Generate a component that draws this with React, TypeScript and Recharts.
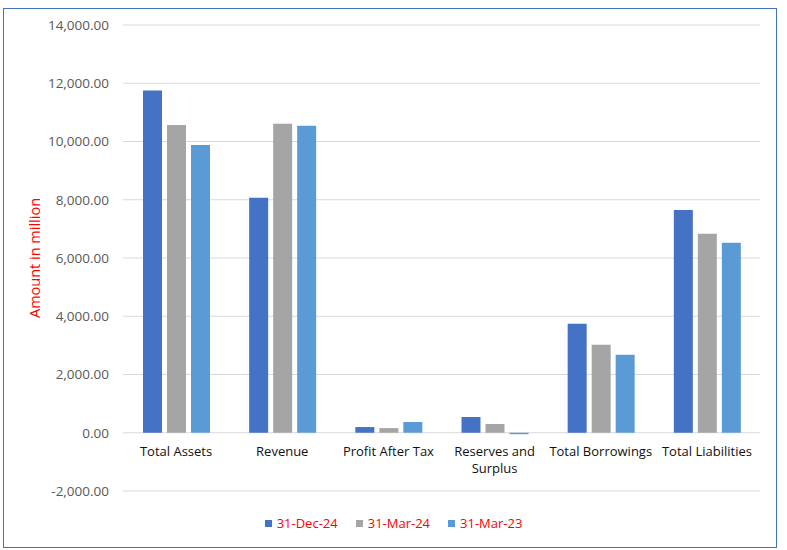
import { Bar, BarChart, CartesianGrid, XAxis, YAxis } from "recharts"

const categories = [
  "Total Assets",
  "Revenue",
  "Profit After Tax",
  "Reserves and Surplus",
  "Total Borrowings",
  "Total Liabilities",
]

const dec24 = [11750, 8070, 195, 540, 3740, 7650]
const mar24 = [10570, 10610, 160, 300, 3020, 6830]
const mar23 = [9880, 10540, 370, -50, 2680, 6520]

const seriesNames = ["31-Dec-24", "31-Mar-24", "31-Mar-23"]
const seriesColors = ["#4472C4", "#A5A5A5", "#5B9BD5"]

const yTicks = [-2000, 0, 2000, 4000, 6000, 8000, 10000, 12000, 14000]

const data = categories.map((name, i) => ({
  name,
  s0: dec24[i],
  s1: mar24[i],
  s2: mar23[i],
}))

const W = 787
const H = 550
const PLOT_TOP = 25
const PLOT_BOTTOM = 491
const Y_MIN = yTicks[0]
const Y_MAX = yTicks[yTicks.length - 1]
const ZERO_Y = PLOT_TOP + ((PLOT_BOTTOM - PLOT_TOP) * Y_MAX) / (Y_MAX - Y_MIN)

const FONT = "'Open Sans', 'Liberation Sans', Arial, sans-serif"

const fmt = (v: number) =>
  v.toLocaleString("en-US", { minimumFractionDigits: 2, maximumFractionDigits: 2 })

// wrap long category names onto two lines, like excel does
function wrapLabel(s: string) {
  if (s.length <= 18) return [s]
  const words = s.split(" ")
  const lines: string[] = []
  let cur = ""
  for (const w of words) {
    if (cur && (cur + " " + w).length > 12) {
      lines.push(cur)
      cur = w
    } else {
      cur = cur ? cur + " " + w : w
    }
  }
  if (cur) lines.push(cur)
  return lines
}

function CategoryTick(props: any) {
  const { x, payload } = props
  const lines = wrapLabel(payload.value)
  return (
    <text x={x} y={ZERO_Y + 23} textAnchor="middle" fill="#111" fontSize={13} fontFamily={FONT}>
      {lines.map((l, i) => (
        <tspan key={i} x={x} dy={i === 0 ? 0 : 17}>
          {l}
        </tspan>
      ))}
    </text>
  )
}

export default function App() {
  return (
    <div style={{ position: "fixed", left: 0, top: 0, width: W, height: H, background: "#fff" }}>
      <div style={{ position: "absolute", left: 0, top: 0 }}>
        <BarChart
          width={W}
          height={H}
          data={data}
          margin={{ top: PLOT_TOP, right: 27, bottom: H - PLOT_BOTTOM - 30, left: 43 }}
          barSize={19}
          barGap={5}
        >
          <CartesianGrid vertical={false} stroke="#d9d9d9" />
          <XAxis
            dataKey="name"
            height={30}
            axisLine={false}
            tickLine={false}
            tick={<CategoryTick />}
            interval={0}
          />
          <YAxis
            width={80}
            domain={[Y_MIN, Y_MAX]}
            ticks={yTicks}
            tickFormatter={fmt}
            axisLine={false}
            tickLine={false}
            tickMargin={8}
            tick={{ fill: "#595959", fontSize: 13.5, fontFamily: FONT }}
            label={{
              value: "Amount in million",
              angle: -90,
              position: "center",
              dx: -48,
              fill: "#FF0000",
              fontSize: 14.5,
              fontFamily: FONT,
            }}
          />
          {seriesNames.map((n, i) => (
            <Bar key={n} dataKey={"s" + i} name={n} fill={seriesColors[i]} isAnimationActive={false} />
          ))}
        </BarChart>
      </div>
      <div
        style={{
          position: "absolute",
          top: 514,
          left: 0,
          width: W,
          display: "flex",
          justifyContent: "center",
          gap: 18,
          fontFamily: FONT,
          fontSize: 13,
          color: "#FF0000",
        }}
      >
        {seriesNames.map((n, i) => (
          <div key={n} style={{ display: "flex", alignItems: "center" }}>
            <span style={{ width: 7, height: 7, background: seriesColors[i], marginRight: 5 }} />
            <span>{n}</span>
          </div>
        ))}
      </div>
      <div
        style={{
          position: "absolute",
          left: 3,
          top: 8,
          width: 772,
          height: 538,
          border: "1px solid #4472C4",
          pointerEvents: "none",
        }}
      />
    </div>
  )
}
